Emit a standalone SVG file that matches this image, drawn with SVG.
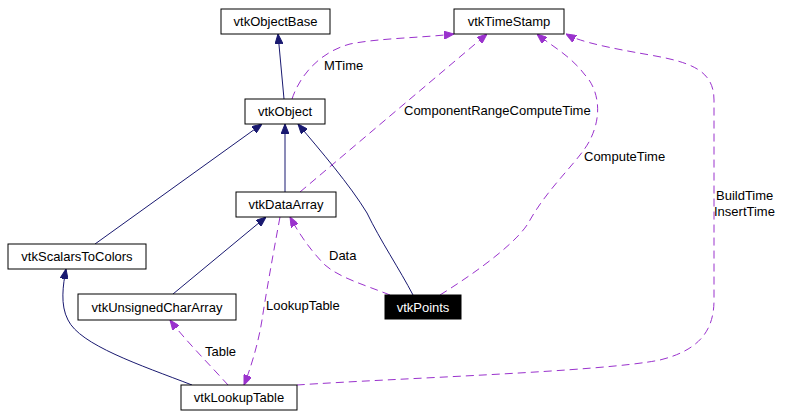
<svg xmlns="http://www.w3.org/2000/svg" width="786" height="418" viewBox="0 0 786 418">
<style>
text{font-family:"Liberation Sans",Arial,sans-serif;font-size:13px;fill:#000}
.node rect{fill:#fff;stroke:#000;stroke-width:1}
.nt{text-anchor:middle}
.inh{fill:none;stroke:#191970;stroke-width:1}
.use{fill:none;stroke:#9a32cd;stroke-width:1;stroke-dasharray:8,5}
</style>
<defs>
<marker id="an" viewBox="0 0 10 8" refX="10" refY="4" markerWidth="10" markerHeight="8" markerUnits="userSpaceOnUse" orient="auto"><path d="M0,0 L10,4 L0,8 z" fill="#191970" stroke="#191970"/></marker>
<marker id="ap" viewBox="0 0 10 8" refX="10" refY="4" markerWidth="10" markerHeight="8" markerUnits="userSpaceOnUse" orient="auto"><path d="M0,0 L10,4 L0,8 z" fill="#9a32cd" stroke="#9a32cd"/></marker>
</defs>
<rect width="786" height="418" fill="#fff"/>
<g id="connectors">
<path class="inh" marker-end="url(#an)" d="M284,99 L278,34"/>
<path class="inh" marker-end="url(#an)" d="M285,192 L285,124"/>
<path class="inh" marker-end="url(#an)" d="M95,244 L262,124"/>
<path class="inh" marker-end="url(#an)" d="M413,295 C400,270 380,240 367,213 C350,185 320,150 298,124"/>
<path class="inh" marker-end="url(#an)" d="M173,294 L266,217"/>
<path class="inh" marker-end="url(#an)" d="M192,385 C140,365 80,345 68,320 C60,305 63,285 66,269"/>
<path class="use" marker-end="url(#ap)" d="M280,217 C272,260 265,300 262,320 C258,345 250,370 244,385"/>
<path class="use" marker-end="url(#ap)" d="M228,385 C210,365 185,340 170,320"/>
<path class="use" marker-end="url(#ap)" d="M390,295 C365,285 340,278 325,265 C310,250 298,232 290,217"/>
<path class="use" marker-end="url(#ap)" d="M292,99 C300,75 320,52 350,44 C380,38 420,38 454,34"/>
<path class="use" marker-end="url(#ap)" d="M300,192 L487,34"/>
<path class="use" marker-end="url(#ap)" d="M440,295 C480,270 520,240 530,220 C550,185 580,160 590,140 C605,110 595,85 585,75 C570,55 550,45 537,34"/>
<path class="use" marker-end="url(#ap)" d="M297,385 C400,378 600,372 660,360 C700,350 714,330 714,300 L714,100 C714,70 690,62 650,55 C610,48 580,42 566,34"/>
<text x="324" y="70">MTime</text>
<text x="404" y="115">ComponentRangeComputeTime</text>
<text x="584" y="161">ComputeTime</text>
<text x="716" y="200">BuildTime</text>
<text x="714" y="216">InsertTime</text>
<text x="329" y="260">Data</text>
<text x="266" y="310">LookupTable</text>
<text x="205" y="356">Table</text>
</g>
<g id="vtkObjectBase" class="node"><rect x="221" y="9" width="109" height="25"/><text class="nt" x="275.5" y="26">vtkObjectBase</text></g>
<g id="vtkTimeStamp" class="node"><rect x="454" y="9" width="110" height="25"/><text class="nt" x="509" y="26">vtkTimeStamp</text></g>
<g id="vtkObject" class="node"><rect x="245" y="99" width="80" height="25"/><text class="nt" x="285" y="116">vtkObject</text></g>
<g id="vtkDataArray" class="node"><rect x="236" y="192" width="100" height="25"/><text class="nt" x="286" y="209">vtkDataArray</text></g>
<g id="vtkScalarsToColors" class="node"><rect x="8" y="244" width="138" height="25"/><text class="nt" x="77" y="261">vtkScalarsToColors</text></g>
<g id="vtkUnsignedCharArray" class="node"><rect x="78" y="294" width="158" height="26"/><text class="nt" x="157" y="312">vtkUnsignedCharArray</text></g>
<g id="vtkPoints" class="node"><rect x="385" y="295" width="76" height="24" style="fill:#000"/><text class="nt" x="423" y="312" style="fill:#fff">vtkPoints</text></g>
<g id="vtkLookupTable" class="node"><rect x="181" y="385" width="116" height="25"/><text class="nt" x="239" y="402">vtkLookupTable</text></g>
</svg>
